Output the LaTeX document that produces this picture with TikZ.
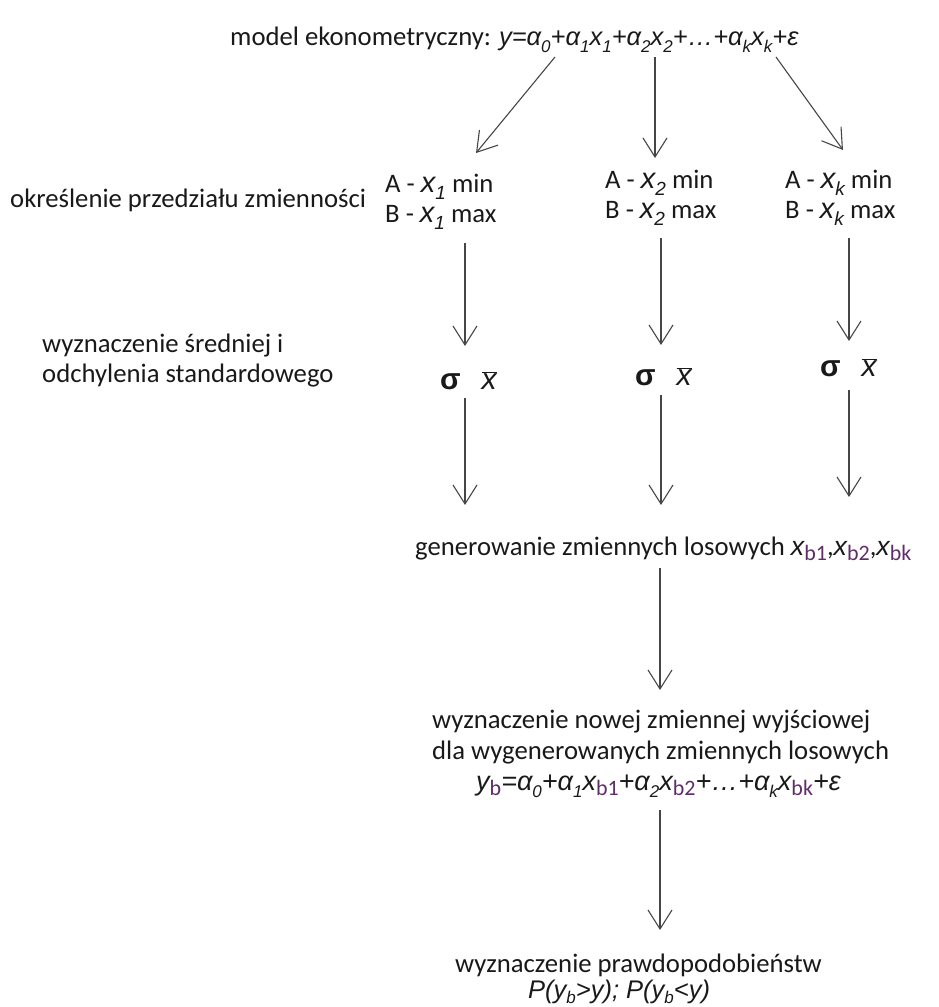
\documentclass[tikz,border=0pt]{standalone}
\usepackage{fontspec}
\setmainfont{Carlito}
\newfontfamily\ar{Liberation Sans}
\usetikzlibrary{arrows.meta}
\definecolor{txt}{RGB}{25,25,25}
\definecolor{subc}{RGB}{95,45,105}
\definecolor{arrc}{RGB}{70,70,70}
\newcommand{\isub}[1]{\raisebox{-0.28em}{\fontsize{17}{17}\selectfont #1}}
\newcommand{\csub}[1]{\raisebox{-0.26em}{\fontsize{19}{19}\selectfont #1}}
\newcommand{\psub}[1]{\raisebox{-0.22em}{\fontsize{17}{17}\selectfont #1}}
\newcommand{\bsub}[1]{\raisebox{-0.22em}{\fontsize{22}{22}\selectfont\normalfont\upshape\color{subc}#1}}
\newcommand{\cx}[1]{{\ar\itshape\fontsize{29}{32}\selectfont x\csub{#1}}}
\newcommand{\sx}{{\fontsize{30}{32}\selectfont\ar{\bfseries σ}\hspace{0.7em}$\overline{\mbox{\itshape x}}$}}
\tikzset{
  lbl/.style={anchor=base west, inner sep=0pt, text=txt, font=\fontsize{26.7}{32}\selectfont},
  mth/.style={anchor=base west, inner sep=0pt, text=txt, font=\fontsize{27}{32}\selectfont\ar\itshape},
  arr/.style={draw=arrc, line width=1.1pt, -{Straight Barb[length=19pt,width=24pt,line width=1.1pt]}}
}
\begin{document}
\begin{tikzpicture}[x=1pt,y=-1pt]
\useasboundingbox (0,0) rectangle (938,1007);
% title
\node[lbl] (title) at (230,45) {model ekonometryczny: {\ar\itshape\fontsize{25.5}{30}\selectfont y=α\isub{0}+α\isub{1}x\isub{1}+α\isub{2}x\isub{2}+…+α\isub{k}x\isub{k}+ε}};
% row 2
\node[lbl] (lab2) at (10,207) {określenie przedziału zmienności};
\node[lbl] (a1) at (385,192) {A - \cx{1} min};
\node[lbl] (b1) at (385,222) {B - \cx{1} max};
\node[lbl] (a2) at (605,188) {A - \cx{2} min};
\node[lbl] (b2) at (605,218) {B - \cx{2} max};
\node[lbl] (a3) at (785,188) {A - \cx{k} min};
\node[lbl] (b3) at (785,218) {B - \cx{k} max};
% row 3
\node[lbl] (lab3a) at (42,352) {wyznaczenie średniej i};
\node[lbl] (lab3b) at (42,382) {odchylenia standardowego};
\node[lbl] (s1) at (440,389) {\sx};
\node[lbl] (s2) at (635,385) {\sx};
\node[lbl] (s3) at (820,376) {\sx};
% generation
\node[lbl] (gen) at (415,555) {generowanie zmiennych losowych {\ar\itshape x}\bsub{b1},{\ar\itshape x}\bsub{b2},{\ar\itshape x}\bsub{bk}};
% new output
\node[lbl] (new1) at (432,728) {wyznaczenie nowej zmiennej wyjściowej};
\node[lbl] (new2) at (432,759) {dla wygenerowanych zmiennych losowych};
\node[mth] (form) at (476,790) {y\bsub{b}=α\isub{0}+α\isub{1}x\bsub{b1}+α\isub{2}x\bsub{b2}+…+α\isub{k}x\bsub{bk}+ε};
% probabilities
\node[lbl] (prob) at (455,972) {wyznaczenie prawdopodobieństw};
\node[mth,font=\fontsize{25.5}{30}\selectfont\ar\itshape] (pp) at (528,998) {P(y\psub{b}>y); P(y\psub{b}<y)};
% arrow end points
\coordinate (t1) at (555,57);  \coordinate (e1) at (476,153);
\coordinate (t2) at (655,57);  \coordinate (e2) at (655,158);
\coordinate (t3) at (776,57);  \coordinate (e3) at (843,150);
\coordinate (c1a) at (465,243); \coordinate (c1b) at (465,346);
\coordinate (c2a) at (661,238); \coordinate (c2b) at (661,345);
\coordinate (c3a) at (849,238); \coordinate (c3b) at (849,341);
\coordinate (d1a) at (465,398); \coordinate (d1b) at (465,505);
\coordinate (d2a) at (661,395); \coordinate (d2b) at (661,505);
\coordinate (d3a) at (849,390); \coordinate (d3b) at (849,497);
\coordinate (g1) at (660,568); \coordinate (g2) at (660,690);
\coordinate (f1) at (660,810); \coordinate (f2) at (660,930);
\draw[arr] (t1) -- (e1);
\draw[arr] (t2) -- (e2);
\draw[arr] (t3) -- (e3);
\draw[arr] (c1a) -- (c1b);
\draw[arr] (c2a) -- (c2b);
\draw[arr] (c3a) -- (c3b);
\draw[arr] (d1a) -- (d1b);
\draw[arr] (d2a) -- (d2b);
\draw[arr] (d3a) -- (d3b);
\draw[arr] (g1) -- (g2);
\draw[arr] (f1) -- (f2);
\end{tikzpicture}
\end{document}
